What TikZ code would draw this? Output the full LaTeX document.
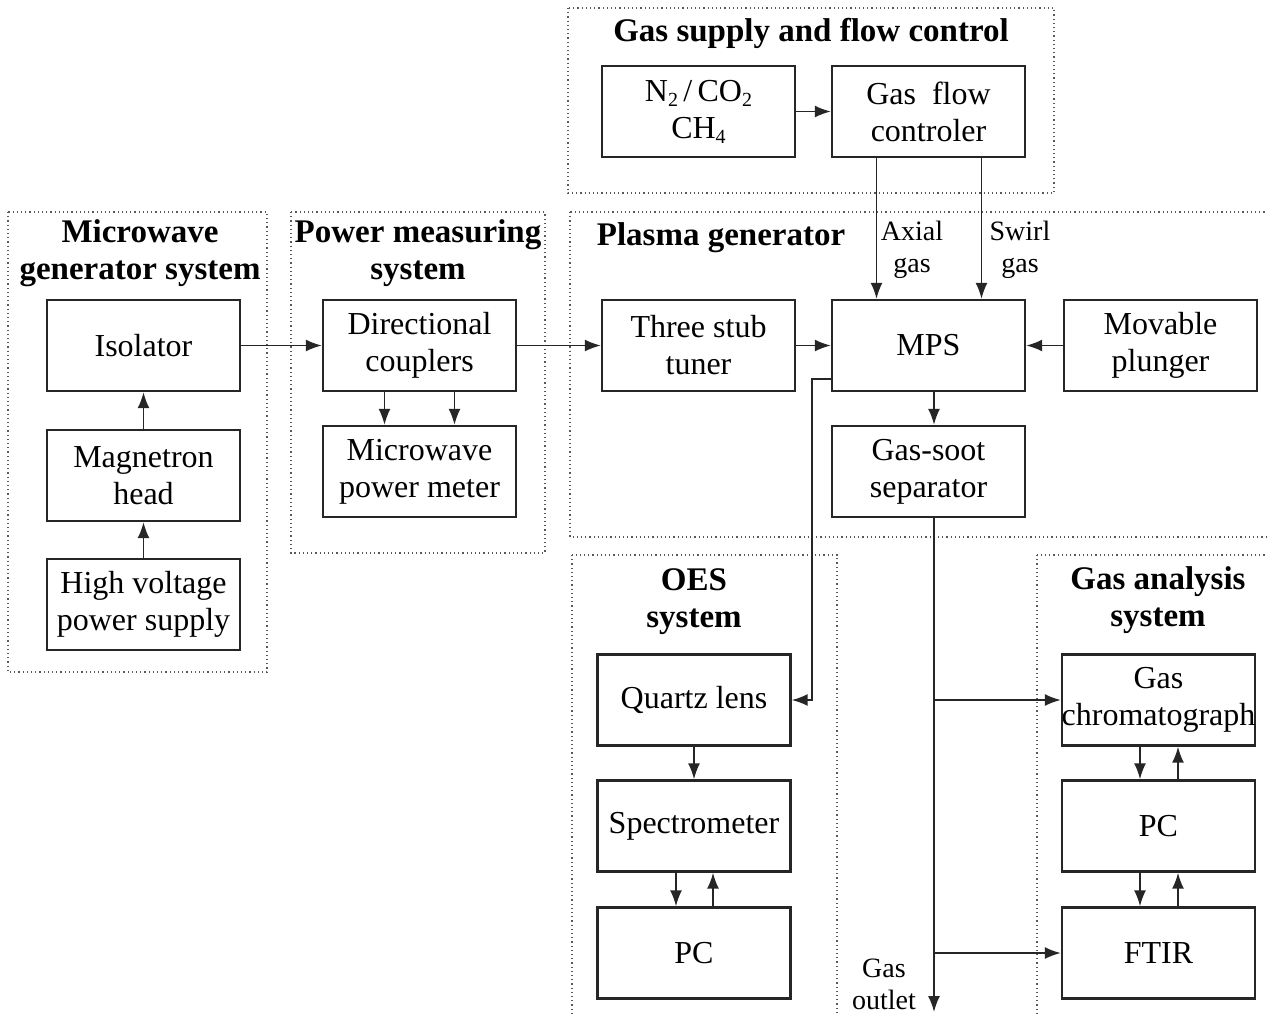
\documentclass[tikz,border=0pt]{standalone}
\usepackage{fontspec}
\setmainfont{Liberation Serif}
\usetikzlibrary{arrows.meta,positioning,calc}
\colorlet{myframe}{black!85}
\colorlet{mydots}{black!65}
\newcommand{\lowsub}[1]{\raisebox{-0.35ex}{\fontsize{10}{10}\selectfont #1}}
\tikzset{
	block/.style={
		rectangle, draw=myframe, line width=1.2pt,
		minimum width=96.5pt, minimum height=45.5pt,
		align=center, inner sep=1pt,
		font=\fontsize{16}{18.5}\selectfont,
	},
	group/.style={
		draw=mydots, line width=0.8pt, dash pattern=on 0.6pt off 1.5pt,
	},
	title/.style={
		align=center, font=\fontsize{16.5}{18.5}\selectfont\bfseries,
	},
	label/.style={
		align=center, font=\fontsize{14}{16}\selectfont,
	},
	line/.style={
		draw, myframe, line width=0.85pt, -{Latex[length=8pt,width=6pt]},
	}
}
\begin{document}
\begin{tikzpicture}[x=0.5pt, y=-0.5pt]
	\useasboundingbox (0,0) rectangle (1268,1014);
	% Dotted system frames
	\draw[group] (568,8) rectangle (1054,193);
	\draw[group] (8,212) rectangle (267,672);
	\draw[group] (291,212) rectangle (545,553);
	\draw[group] (570,212) rectangle (1300,537);
	\draw[group] (572,555) rectangle (837,1040);
	\draw[group] (1037,555) rectangle (1300,1040);
	% Frame titles
	\node[title] (tsupply) at (811,33) {Gas supply and flow control};
	\node[title] (tmicro) at (140,253) {Microwave\\generator system};
	\node[title] (tpower) at (418,253) {Power measuring\\system};
	\node[title] (tplasma) at (721,238) {Plasma generator};
	\node[title] (toes) at (694,602) {OES\\system};
	\node[title] (tanalysis) at (1158,600) {Gas analysis\\system};
	% Microwave generator system
	\node[block] (isolator) at (143.5,345.5) {Isolator};
	\node[block, below=18.3pt of isolator] (magnetron) {Magnetron\\head};
	\node[block, below=17.8pt of magnetron] (hvsupply) {High voltage\\power supply};
	% Power measuring system
	\node[block] (couplers) at (419.5,345.5) {Directional\\couplers};
	\node[block, below=16.3pt of couplers] (meter) {Microwave\\power meter};
	% Gas supply and flow control
	\node[block] (gasmix) at (698.5,111.5) {N\lowsub{2}\,/\,CO\lowsub{2}\\CH\lowsub{4}};
	\node[block, right=17.3pt of gasmix] (flowctl) {Gas\enspace flow\\controler};
	% Plasma generator
	\node[block] (tuner) at (698.5,345.5) {Three stub\\tuner};
	\node[block, right=17.3pt of tuner] (mps) {MPS};
	\node[block, right=18.3pt of mps] (plunger) {Movable\\plunger};
	\node[block, below=16.3pt of mps] (separator) {Gas-soot\\separator};
	% OES system
	\node[block] (quartz) at (694,700) {Quartz lens};
	\node[block, below=16.3pt of quartz] (spectro) {Spectrometer};
	\node[block, below=16.8pt of spectro] (pcoes) {PC};
	% Gas analysis system
	\node[block] (gc) at (1158.5,700) {Gas\\\makebox[80pt]{chromatograph}};
	\node[block, below=16.3pt of gc] (pcgas) {PC};
	\node[block, below=16.8pt of pcgas] (ftir) {FTIR};
	% Gas outlet end
	\coordinate (outlet) at (934,1012);
	\node[label] (toutlet) at (884,984) {Gas\\outlet};
	\node[label] (taxial) at (912,250) {Axial\\gas};
	\node[label] (tswirl) at (1020,250) {Swirl\\gas};
	% Microwave line
	\draw[line] (hvsupply) -- (magnetron);
	\draw[line] (magnetron) -- (isolator);
	\draw[line] (isolator) -- (couplers);
	\draw[line] (couplers) -- (tuner);
	\draw[line] (tuner) -- (mps);
	\draw[line] (plunger) -- (mps);
	\draw[line] ($(couplers.south)+(-35,0)$) -- ($(meter.north)+(-35,0)$);
	\draw[line] ($(couplers.south)+(35,0)$) -- ($(meter.north)+(35,0)$);
	% Gas feed
	\draw[line] (gasmix) -- (flowctl);
	\draw[line] ($(flowctl.south)+(-52,0)$) -- ($(mps.north)+(-52,0)$);
	\draw[line] ($(flowctl.south)+(53,0)$) -- ($(mps.north)+(53,0)$);
	% Gas outlet and analysis
	\draw[line] (mps.south -| outlet) -- (separator.north -| outlet);
	\draw[line] (separator.south -| outlet) -- (outlet);
	\draw[line] (gc.west -| outlet) -- (gc.west);
	\draw[line] (ftir.west -| outlet) -- (ftir.west);
	\draw[line] ($(gc.south)+(-18.5,0)$) -- ($(pcgas.north)+(-18.5,0)$);
	\draw[line] ($(pcgas.north)+(19.5,0)$) -- ($(gc.south)+(19.5,0)$);
	\draw[line] ($(pcgas.south)+(-18.5,0)$) -- ($(ftir.north)+(-18.5,0)$);
	\draw[line] ($(ftir.north)+(19.5,0)$) -- ($(pcgas.south)+(19.5,0)$);
	% OES
	\draw[line] ($(mps.west)+(0,33.5)$) -- ++(-19,0) |- (quartz.east);
	\draw[line] (quartz) -- (spectro);
	\draw[line] ($(spectro.south)+(-18,0)$) -- ($(pcoes.north)+(-18,0)$);
	\draw[line] ($(pcoes.north)+(19,0)$) -- ($(spectro.south)+(19,0)$);
\end{tikzpicture}
\end{document}
